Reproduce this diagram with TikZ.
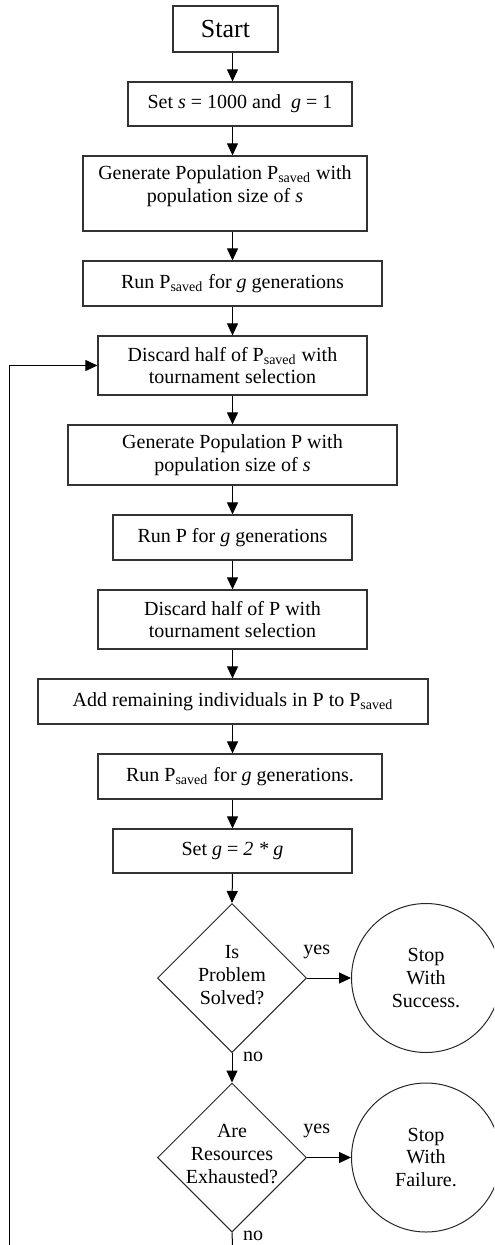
\documentclass[tikz,border=0pt]{standalone}
\usepackage{fontspec}
\setmainfont{Liberation Serif}
\usetikzlibrary{shapes.geometric,arrows.meta}
\newcommand{\Psaved}{P\textsubscript{saved}}
\tikzset{
    pbox/.style={draw=black!80, line width=0.6pt, inner sep=0pt, align=center},
    pdiam/.style={draw=black!85, line width=0.5pt, diamond, aspect=1, inner sep=0pt, minimum width=74.5pt, minimum height=74.5pt},
    pcirc/.style={draw=black!85, line width=0.5pt, circle, inner sep=0pt, minimum size=74.5pt, align=center},
    pline/.style={-{Triangle[length=6pt, width=5.5pt]}, line width=0.5pt}
}

\begin{document}
\begin{tikzpicture}[x=0.5pt, y=-0.5pt, every node/.style={font=\fontsize{10}{11.4}\selectfont}]
            \useasboundingbox (0,0) rectangle (494,1245);
            \clip (0,0) rectangle (494,1245);
            \coordinate (axis) at (232.5,0);
            \node[pbox, minimum width=52.5pt, minimum height=23pt, font=\fontsize{13}{15}\selectfont] (start) at (225.5,29) {Start};
            \node[pbox, minimum width=112pt, minimum height=22pt] (set) at (240,104) {Set \textit{s} = 1000 and\ \ \textit{g} = 1};
            \node[pbox, minimum width=142pt, minimum height=37.5pt] (gen1) at (225,193.5) {};
            \node[align=center] (gen1txt) at (225,186.5) {Generate Population \Psaved{} with\\population size of \textit{s}};
            \node[pbox, minimum width=149.5pt, minimum height=22.5pt] (run1) at (232.5,283.5) {Run \Psaved{} for \textit{g} generations};
            \node[pbox, minimum width=134.5pt, minimum height=29.5pt] (disc1) at (232.5,365.5) {Discard half of \Psaved{} with\\tournament selection};
            \node[pbox, minimum width=164.5pt, minimum height=30pt] (gen2) at (232.5,455) {Generate Population P with\\population size of \textit{s}};
            \node[pbox, minimum width=119.5pt, minimum height=22.5pt] (run2) at (232.5,537.5) {Run P for \textit{g} generations};
            \node[pbox, minimum width=134.5pt, minimum height=29.5pt] (disc2) at (232.5,619.5) {Discard half of P with\\tournament selection};
            \node[pbox, minimum width=195pt, minimum height=22.5pt] (add) at (233,701.5) {Add remaining individuals in P to \Psaved};
            \node[pbox, minimum width=142pt, minimum height=22.5pt] (run3) at (240,776.5) {Run \Psaved{} for \textit{g} generations.};
            \node[pbox, minimum width=119.5pt, minimum height=22pt] (setg) at (232.5,851) {Set \textit{g} = \textit{2 * g}};
            \node[pdiam] (dia1) at (232,978) {};
            \node[align=center] (dia1txt) at (232,975) {Is\\Problem\\Solved?};
            \node[pcirc] (circ1) at (426,978) {Stop\\With\\Success.};
            \node[pdiam] (dia2) at (232,1157.5) {};
            \node[align=center] (dia2txt) at (232,1154) {Are\\Resources\\Exhausted?};
            \node[pcirc] (circ2) at (426,1157.5) {Stop\\With\\Failure.};
            \node (yes1) at (316.7,952) {yes};
            \node (no1) at (253,1057) {no};
            \node (yes2) at (316.7,1131) {yes};
            \node (no2) at (253,1236) {no};
            \coordinate (nobot) at (232.5,1245);
            \coordinate (loopbot) at (9,1245);
            \draw[pline] (start.south -| axis) -- (set.north -| axis);
            \draw[pline] (set.south -| axis) -- (gen1.north -| axis);
            \draw[pline] (gen1.south -| axis) -- (run1.north -| axis);
            \draw[pline] (run1.south -| axis) -- (disc1.north -| axis);
            \draw[pline] (disc1.south -| axis) -- (gen2.north -| axis);
            \draw[pline] (gen2.south -| axis) -- (run2.north -| axis);
            \draw[pline] (run2.south -| axis) -- (disc2.north -| axis);
            \draw[pline] (disc2.south -| axis) -- (add.north -| axis);
            \draw[pline] (add.south -| axis) -- (run3.north -| axis);
            \draw[pline] (run3.south -| axis) -- (setg.north -| axis);
            \draw[pline] (setg.south -| axis) -- (dia1.north);
            \draw[pline] (dia1.south) -- (dia2.north);
            \draw[pline] (dia1.east) -- (circ1.west);
            \draw[pline] (dia2.east) -- (circ2.west);
            \draw[line width=0.5pt] (dia2.south) -- (nobot);
            \draw[pline] (loopbot) |- (disc1.west);
        \end{tikzpicture}
\end{document}
